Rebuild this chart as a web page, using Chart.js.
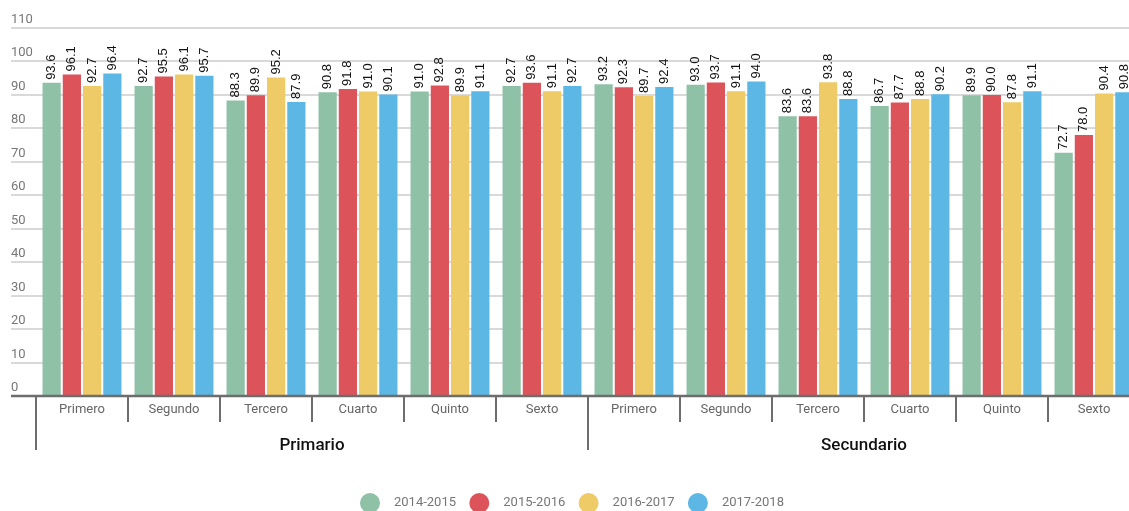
<!DOCTYPE html>
<html>
<head>
<meta charset="utf-8">
<script src="https://cdn.jsdelivr.net/npm/chart.js@4"></script>
<style>
  html, body { margin: 0; padding: 0; background: #fff; overflow: hidden; }
  #wrap { width: 1140px; height: 511px; }
</style>
</head>
<body>
<div id="wrap"><canvas id="chart" width="1140" height="511"></canvas></div>
<script>
// Data
const grades = ["Primero", "Segundo", "Tercero", "Cuarto", "Quinto", "Sexto"];
const levels = ["Primario", "Secundario"];
const seriesNames = ["2014-2015", "2015-2016", "2016-2017", "2017-2018"];
const colors = ["#8fc1a7", "#dc545a", "#eecb67", "#5db7e5"];
const yTicks = [0, 10, 20, 30, 40, 50, 60, 70, 80, 90, 100, 110];

const s2014 = [93.6, 92.7, 88.3, 90.8, 91.0, 92.7, 93.2, 93.0, 83.6, 86.7, 89.9, 72.7];
const s2015 = [96.1, 95.5, 89.9, 91.8, 92.8, 93.6, 92.3, 93.7, 83.6, 87.7, 90.0, 78.0];
const s2016 = [92.7, 96.1, 95.2, 91.0, 89.9, 91.1, 89.7, 91.1, 93.8, 88.8, 87.8, 90.4];
const s2017 = [96.4, 95.7, 87.9, 90.1, 91.1, 92.7, 92.4, 94.0, 88.8, 90.2, 91.1, 90.8];

const labels = levels.flatMap(() => grades);
const allSeries = [s2014, s2015, s2016, s2017];

// Custom drawing: grid, axis, separators, group labels, values, legend
const decorations = {
  id: "decorations",
  beforeDatasetsDraw(chart) {
    const ctx = chart.ctx;
    const y = chart.scales.y;
    ctx.save();
    ctx.strokeStyle = "#d9d9d9";
    ctx.lineWidth = 2;
    ctx.font = "13px Roboto";
    ctx.fillStyle = "#777";
    ctx.textAlign = "left";
    ctx.textBaseline = "alphabetic";
    yTicks.forEach((v) => {
      const py = Math.round(y.getPixelForValue(v));
      if (v > 0) {
        ctx.beginPath();
        ctx.moveTo(11, py);
        ctx.lineTo(chart.width, py);
        ctx.stroke();
      }
      ctx.fillText(String(v), 11, py - 5);
    });
    ctx.restore();
  },
  afterDatasetsDraw(chart) {
    const ctx = chart.ctx;
    const x = chart.scales.x;
    const area = chart.chartArea;
    ctx.save();

    // value labels
    ctx.font = "13px 'Liberation Sans'";
    ctx.fillStyle = "#111";
    ctx.textAlign = "left";
    ctx.textBaseline = "middle";
    chart.data.datasets.forEach((ds, i) => {
      chart.getDatasetMeta(i).data.forEach((bar, j) => {
        ctx.save();
        ctx.translate(bar.x, bar.y - 3);
        ctx.rotate(-Math.PI / 2);
        ctx.fillText(ds.data[j].toFixed(1), 0, 0);
        ctx.restore();
      });
    });

    // x axis line
    ctx.strokeStyle = "#6d6d6d";
    ctx.lineWidth = 2.5;
    ctx.beginPath();
    ctx.moveTo(11, area.bottom);
    ctx.lineTo(chart.width, area.bottom);
    ctx.stroke();

    // category separators
    const step = x.getPixelForValue(1) - x.getPixelForValue(0);
    ctx.lineWidth = 2;
    for (let i = 0; i <= labels.length; i++) {
      const px = Math.round(x.getPixelForValue(i) - step / 2);
      const long = i % grades.length === 0;
      ctx.beginPath();
      ctx.moveTo(px, area.bottom);
      ctx.lineTo(px, area.bottom + (long ? 54 : 26));
      ctx.stroke();
    }

    // level labels
    ctx.font = "500 17px Roboto";
    ctx.fillStyle = "#111";
    ctx.textAlign = "center";
    ctx.textBaseline = "middle";
    levels.forEach((lv, k) => {
      const a = x.getPixelForValue(k * grades.length) - step / 2;
      const b = x.getPixelForValue((k + 1) * grades.length - 1) + step / 2;
      ctx.fillText(lv, (a + b) / 2, area.bottom + 50);
    });

    // legend
    ctx.font = "13px Roboto";
    ctx.textAlign = "left";
    const cy = 503;
    seriesNames.forEach((name, i) => {
      const cx = 370 + i * 109.3;
      ctx.fillStyle = colors[i];
      ctx.beginPath();
      ctx.arc(cx, cy, 10, 0, Math.PI * 2);
      ctx.fill();
      ctx.fillStyle = "#777";
      ctx.fillText(name, cx + 24, cy);
    });
    ctx.restore();
  }
};

new Chart(document.getElementById("chart"), {
  type: "bar",
  data: {
    labels: labels,
    datasets: seriesNames.map((name, i) => ({
      label: name,
      data: allSeries[i],
      backgroundColor: colors[i],
      categoryPercentage: 0.88,
      barPercentage: 0.9
    }))
  },
  options: {
    responsive: false,
    animation: false,
    layout: { padding: { top: 28, left: 36, right: 0, bottom: 0 } },
    plugins: {
      legend: { display: false },
      tooltip: { enabled: false }
    },
    scales: {
      y: { display: false, min: 0, max: 110 },
      x: {
        grid: { display: false, drawTicks: false },
        border: { display: false },
        ticks: {
          font: { family: "Roboto", size: 13 },
          color: "#666",
          padding: 6,
          maxRotation: 0,
          autoSkip: false
        },
        afterFit(scale) { scale.height = 115; }
      }
    }
  },
  plugins: [decorations]
});
</script>
</body>
</html>
